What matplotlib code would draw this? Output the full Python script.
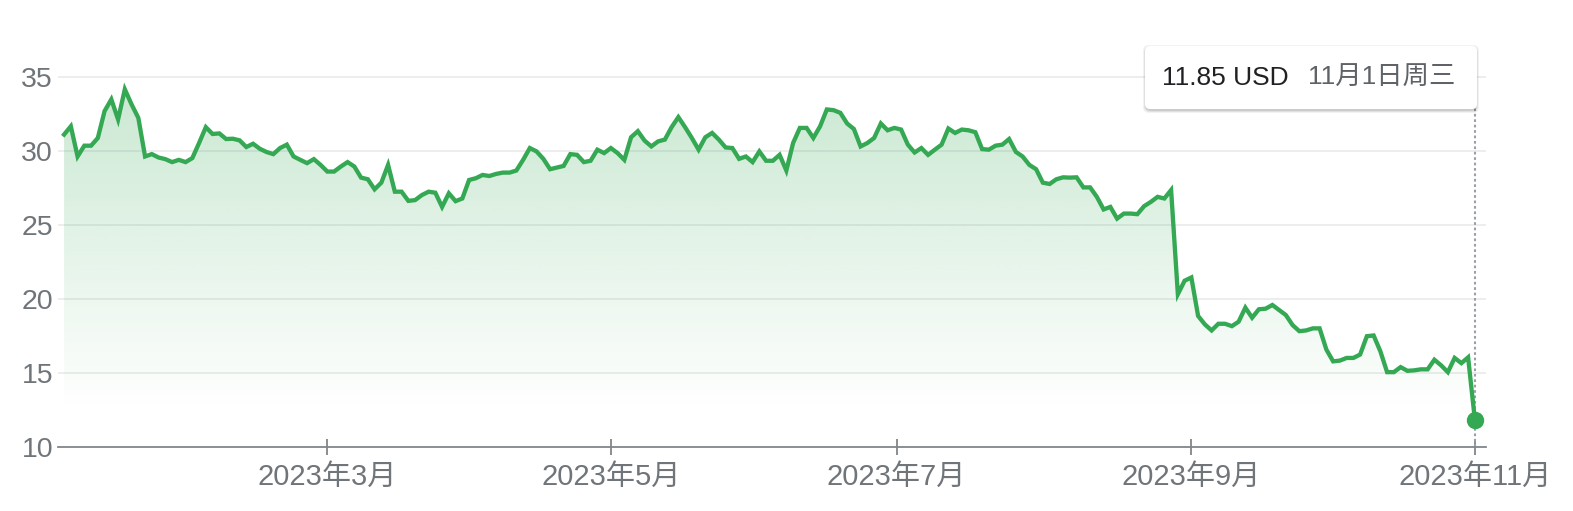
import matplotlib
matplotlib.use("Agg")
import matplotlib.pyplot as plt
import matplotlib.transforms as mtrans
from matplotlib.patches import Polygon, FancyBboxPatch
import numpy as np
import pandas as pd

plt.rcParams['font.family'] = ['Liberation Sans', 'Noto Sans CJK SC']

# NYSE closures inside the range (trading days only on the x axis)
holidays = ['2023-01-16', '2023-02-20', '2023-04-07', '2023-05-29',
            '2023-06-19', '2023-07-04', '2023-09-04']

# daily close, 2023-01-03 .. 2023-11-01
prices = [
    31.12, 31.68, 29.64, 30.37, 30.37, 30.89, 32.71, 33.50, 32.14, 34.18,
    33.16, 32.25, 29.64, 29.80, 29.57, 29.46, 29.26, 29.41, 29.26, 29.53,
    30.55, 31.62, 31.16, 31.20, 30.82, 30.84, 30.73, 30.28, 30.50, 30.16,
    29.94, 29.80, 30.21, 30.44, 29.64, 29.41, 29.19, 29.46, 29.07, 28.62,
    28.62, 28.96, 29.26, 28.96, 28.21, 28.10, 27.42, 27.87, 29.07, 27.26,
    27.26, 26.64, 26.69, 27.03, 27.26, 27.19, 26.23, 27.15, 26.62, 26.80,
    28.05, 28.17, 28.39, 28.32, 28.46, 28.55, 28.55, 28.69, 29.41, 30.21,
    29.98, 29.48, 28.78, 28.89, 29.00, 29.80, 29.75, 29.26, 29.35, 30.10,
    29.87, 30.21, 29.87, 29.41, 30.94, 31.35, 30.71, 30.32, 30.66, 30.78,
    31.62, 32.30, 31.62, 30.89, 30.10, 30.94, 31.23, 30.78, 30.25, 30.21,
    29.48, 29.64, 29.26, 29.98, 29.35, 29.35, 29.75, 28.69, 30.55, 31.57,
    31.57, 30.89, 31.68, 32.82, 32.77, 32.59, 31.87, 31.50, 30.32, 30.55,
    30.89, 31.87, 31.41, 31.57, 31.46, 30.44, 29.91, 30.21, 29.75, 30.10,
    30.44, 31.53, 31.23, 31.46, 31.41, 31.28, 30.14, 30.10, 30.37, 30.44,
    30.82, 29.95, 29.64, 29.07, 28.78, 27.87, 27.78, 28.10, 28.23, 28.21,
    28.23, 27.55, 27.55, 26.91, 26.06, 26.23, 25.44, 25.78, 25.78, 25.74,
    26.28, 26.57, 26.91, 26.80, 27.37, 20.33, 21.24, 21.46, 18.86, 18.29,
    17.88, 18.33, 18.33, 18.17, 18.47, 19.42, 18.74, 19.31, 19.35, 19.60,
    19.26, 18.92, 18.24, 17.83, 17.88, 18.02, 18.02, 16.59, 15.79, 15.84,
    16.02, 16.02, 16.25, 17.49, 17.54, 16.47, 15.06, 15.06, 15.40, 15.15,
    15.18, 15.25, 15.25, 15.90, 15.52, 15.06, 16.02, 15.67, 16.06, 11.85,
]

month_starts = ['2023-03-01', '2023-05-01', '2023-07-01', '2023-09-01', '2023-11-01']
month_labels = ['2023年3月', '2023年5月', '2023年7月', '2023年9月', '2023年11月']
yticks = [10, 15, 20, 25, 30, 35]
tip_price = '11.85 USD'
tip_date = '11月1日周三'

GREEN = '#34a853'
GREY = '#70757a'

days = pd.bdate_range('2023-01-03', '2023-11-01')
days = days[~days.isin(pd.to_datetime(holidays))]
assert len(days) == len(prices)
x = np.arange(len(days))
y = np.array(prices)

day_num = days.values.astype('datetime64[D]').astype(int)
month_num = pd.to_datetime(month_starts).values.astype('datetime64[D]').astype(int)
month_pos = np.interp(month_num, day_num, x)

W, H = 1573, 511
fig = plt.figure(figsize=(W / 100, H / 100), dpi=100)
ax = fig.add_axes([58 / W, 64 / H, (1486 - 58) / W, (456 - 64) / H])

xmin, xmax = -0.9, len(x) - 1 + 1.65
ymin, ymax = 10, 36.5

# gradient fill under the line
alpha = np.clip((np.linspace(ymin, ymax, 256) - 12.5) / 17.5 * 0.21, 0, None)
img = np.zeros((256, 1, 4))
img[..., 0], img[..., 1], img[..., 2] = 52 / 255, 168 / 255, 83 / 255
img[:, 0, 3] = alpha
im = ax.imshow(img, extent=[xmin, xmax, ymin, ymax], origin='lower',
               aspect='auto', interpolation='bilinear', zorder=1)
poly = Polygon(np.column_stack([np.r_[x, x[-1], x[0]], np.r_[y, ymin, ymin]]),
               closed=True, facecolor='none', edgecolor='none')
ax.add_patch(poly)
im.set_clip_path(poly)

ax.plot(x, y, color=GREEN, lw=3.1, solid_joinstyle='miter', zorder=3)
ax.plot(x[-1], y[-1], 'o', ms=11.5, color=GREEN, zorder=4, clip_on=False)
ax.axvline(x[-1], color='#9aa0a6', lw=1.5, ls=(0, (1.3, 1.3)), zorder=2)

ax.set_xlim(xmin, xmax)
ax.set_ylim(ymin, ymax)

ax.set_yticks(yticks)
ax.set_yticklabels([str(t) for t in yticks])
ax.set_xticks(month_pos)
ax.set_xticklabels(month_labels)
ax.tick_params(axis='y', length=0, pad=3.5, labelsize=20.5, labelcolor=GREY)
ax.tick_params(axis='x', direction='inout', length=11, width=1.3, color='#80868b',
               pad=6, labelsize=21, labelcolor=GREY)

for t in yticks[1:]:
    ax.axhline(t, color='#ececec', lw=1.3, zorder=0)

for s in ['left', 'right', 'top']:
    ax.spines[s].set_visible(False)
ax.spines['bottom'].set_color('#80868b')
ax.spines['bottom'].set_linewidth(1.3)

# tooltip box (pixel coordinates)
pix = mtrans.IdentityTransform()
bx, by, bw, bh = 1145, H - 109, 332, 63
for off, a in [(3, 0.05), (2, 0.07), (1, 0.09)]:
    fig.add_artist(FancyBboxPatch((bx - off + 1, by - off - 1), bw + 2 * off - 2, bh + 2 * off - 1,
                                  boxstyle='round,pad=0,rounding_size=6', transform=pix,
                                  facecolor=(0, 0, 0, a), edgecolor='none', zorder=5))
fig.add_artist(FancyBboxPatch((bx, by), bw, bh, boxstyle='round,pad=0,rounding_size=5',
                              transform=pix, facecolor='white', edgecolor='none', zorder=6))
fig.text(1162 / W, (H - 78) / H, tip_price, ha='left', va='center',
         fontsize=19, color='#202124', zorder=7)
fig.text(1308 / W, (H - 78) / H, tip_date, ha='left', va='center',
         fontsize=19, color='#5f6368', zorder=7)

fig.savefig('out.png', dpi=100)
